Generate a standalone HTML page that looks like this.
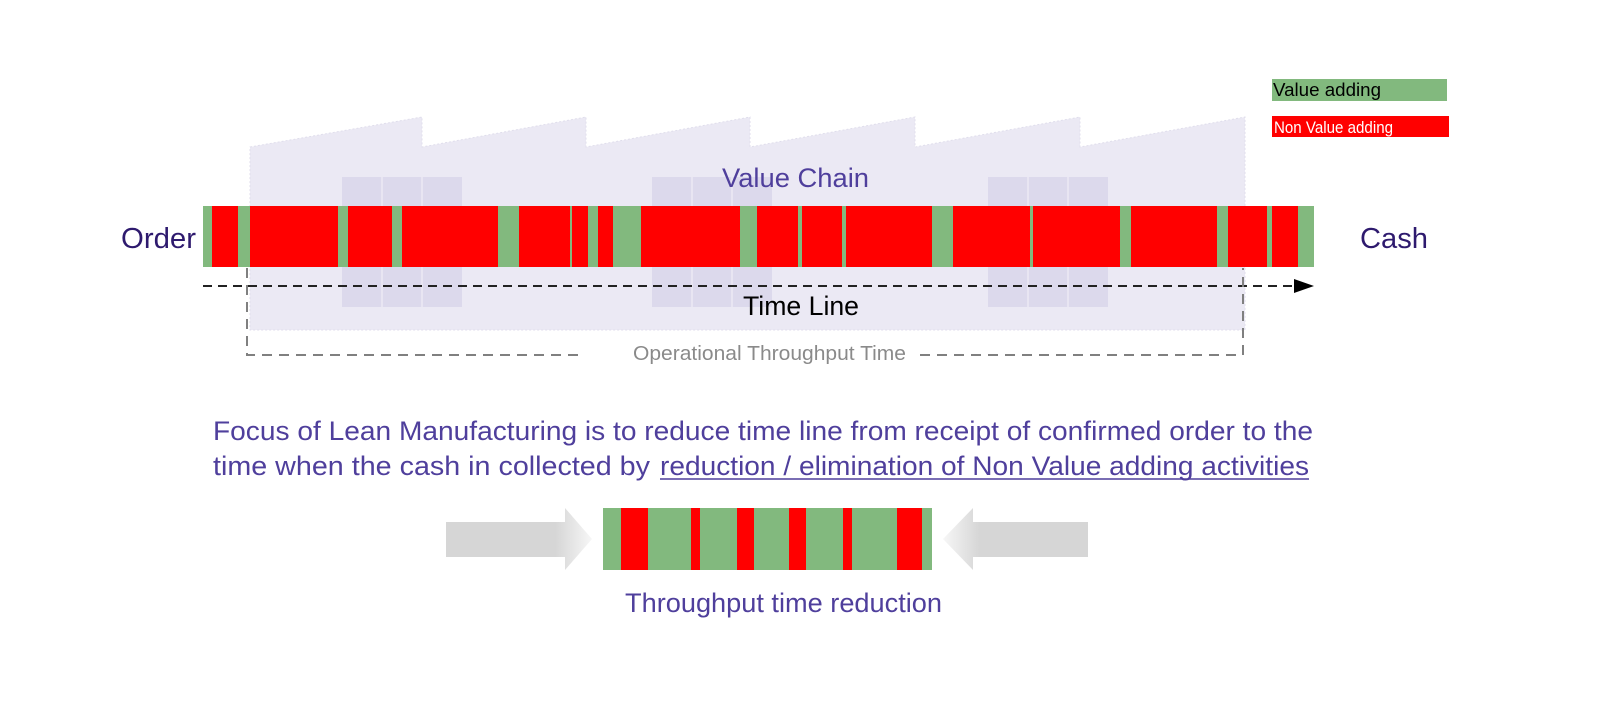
<!DOCTYPE html>
<html><head><meta charset="utf-8"><style>
body{margin:0;background:#fff;}
svg{display:block;font-family:"Liberation Sans",Arial,sans-serif;}
</style></head><body>
<svg width="1600" height="706" viewBox="0 0 1600 706" xmlns="http://www.w3.org/2000/svg">
<defs>
<linearGradient id="gl" x1="0" x2="1"><stop offset="0.75" stop-color="#d6d6d6"/><stop offset="1" stop-color="#d6d6d6" stop-opacity="0.2"/></linearGradient>
<linearGradient id="gr" x1="1" x2="0"><stop offset="0.75" stop-color="#d6d6d6"/><stop offset="1" stop-color="#d6d6d6" stop-opacity="0.2"/></linearGradient>
</defs>
<path d="M250 147 L422 117 L422 147 L586 117 L586 147 L750 117 L750 147 L915 117 L915 147 L1080 117 L1080 147 L1245 117 L1245 330 L250 330 Z" fill="#ebe9f4" stroke="#e0deec" stroke-dasharray="2 2"/>
<g fill="#dcd9ec">
<rect x="342" y="177" width="120" height="130"/>
<rect x="652" y="177" width="120" height="130"/>
<rect x="988" y="177" width="120" height="130"/>
</g>
<g stroke="#ebe9f4" stroke-width="1.5">
<line x1="382" y1="177" x2="382" y2="307"/><line x1="422" y1="177" x2="422" y2="307"/>
<line x1="692" y1="177" x2="692" y2="307"/><line x1="732" y1="177" x2="732" y2="307"/>
<line x1="1028" y1="177" x2="1028" y2="307"/><line x1="1068" y1="177" x2="1068" y2="307"/>
</g>
<text x="722" y="187" font-size="27" fill="#4f3f9c" textLength="147" lengthAdjust="spacingAndGlyphs">Value Chain</text>
<rect x="203" y="206" width="1111" height="61" fill="#82b97e"/>
<g fill="#ff0000">
<rect x="212" y="206" width="26" height="61"/>
<rect x="250" y="206" width="88" height="61"/>
<rect x="348" y="206" width="44" height="61"/>
<rect x="402" y="206" width="96" height="61"/>
<rect x="519" y="206" width="51" height="61"/>
<rect x="572" y="206" width="16" height="61"/>
<rect x="598" y="206" width="15" height="61"/>
<rect x="641" y="206" width="99" height="61"/>
<rect x="757" y="206" width="41" height="61"/>
<rect x="802" y="206" width="40" height="61"/>
<rect x="846" y="206" width="86" height="61"/>
<rect x="953" y="206" width="77" height="61"/>
<rect x="1033" y="206" width="87" height="61"/>
<rect x="1131" y="206" width="86" height="61"/>
<rect x="1228" y="206" width="39" height="61"/>
<rect x="1272" y="206" width="26" height="61"/>
</g>
<text x="121" y="248" font-size="29" fill="#2e1a6e" textLength="75" lengthAdjust="spacingAndGlyphs">Order</text>
<text x="1360" y="248" font-size="29" fill="#2e1a6e" textLength="68" lengthAdjust="spacingAndGlyphs">Cash</text>
<line x1="203" y1="286" x2="1296" y2="286" stroke="#222" stroke-width="2" stroke-dasharray="9 6"/>
<polygon points="1294,279 1314,286 1294,293" fill="#000"/>
<text x="743" y="315" font-size="27" fill="#000" textLength="116" lengthAdjust="spacingAndGlyphs">Time Line</text>
<path d="M247 268 V355 H585 M920 355 H1243 V268" fill="none" stroke="#808080" stroke-width="2" stroke-dasharray="10 7"/>
<text x="633" y="360" font-size="20" fill="#8a8a8a" textLength="273" lengthAdjust="spacingAndGlyphs">Operational Throughput Time</text>
<rect x="1272" y="79" width="175" height="22" fill="#82b97e"/>
<text x="1273" y="96" font-size="18" fill="#000" textLength="108" lengthAdjust="spacingAndGlyphs">Value adding</text>
<rect x="1272" y="116" width="177" height="21" fill="#ff0000"/>
<text x="1274" y="133" font-size="17" fill="#fff" textLength="119" lengthAdjust="spacingAndGlyphs">Non Value adding</text>
<text x="213" y="440" font-size="27" fill="#4f3f9c" textLength="1100" lengthAdjust="spacingAndGlyphs">Focus of Lean Manufacturing is to reduce time line from receipt of confirmed order to the</text>
<text x="213" y="475" font-size="27" fill="#4f3f9c" textLength="437" lengthAdjust="spacingAndGlyphs">time when the cash in collected  by</text>
<text x="660" y="475" font-size="27" fill="#4f3f9c" textLength="649" lengthAdjust="spacingAndGlyphs">reduction / elimination of Non Value adding activities</text>
<line x1="660" y1="479" x2="1309" y2="479" stroke="#4f3f9c" stroke-width="1.5"/>
<polygon points="446,522 565,522 565,508 592,539 565,570 565,557 446,557" fill="url(#gl)"/>
<polygon points="1088,522 973,522 973,508 943,539 973,570 973,557 1088,557" fill="url(#gr)"/>
<rect x="603" y="508" width="329" height="62" fill="#82b97e"/>
<g fill="#ff0000">
<rect x="621" y="508" width="27" height="62"/>
<rect x="691" y="508" width="9" height="62"/>
<rect x="737" y="508" width="17" height="62"/>
<rect x="789" y="508" width="17" height="62"/>
<rect x="843" y="508" width="9" height="62"/>
<rect x="897" y="508" width="25" height="62"/>
</g>
<text x="625" y="612" font-size="27" fill="#4f3f9c" textLength="317" lengthAdjust="spacingAndGlyphs">Throughput time reduction</text>
</svg>
</body></html>
